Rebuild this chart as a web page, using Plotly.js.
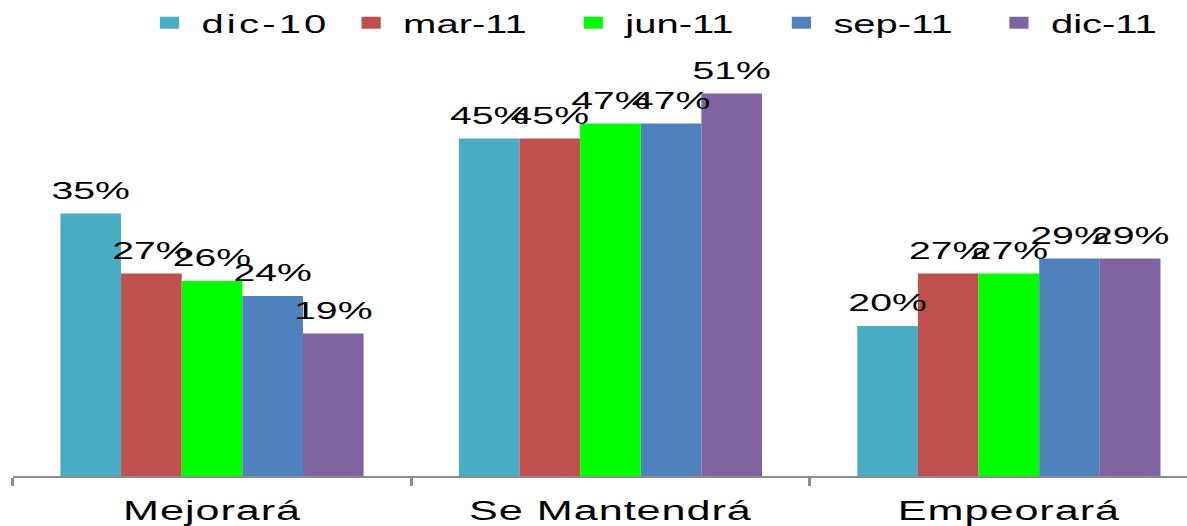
<!DOCTYPE html>
<html>
<head>
<meta charset="utf-8">
<script src="https://cdn.plot.ly/plotly-3.0.1.min.js"></script>
<style>
html,body{margin:0;padding:0;overflow:hidden;background:#fff;}
#wrap{width:1187px;height:526px;overflow:hidden;}
#chart{width:742px;height:526px;transform:scale(1.5997,1);transform-origin:0 0;}
.legendtext{letter-spacing:2px;}
.xtick text{letter-spacing:0.6px;}
</style>
</head>
<body>
<div id="wrap"><div id="chart"></div></div>
<script>
const categories = ['Mejorará', 'Se Mantendrá', 'Empeorará'];
const seriesNames = ['dic-10', 'mar-11', 'jun-11', 'sep-11', 'dic-11'];
const dic10 = [35, 45, 20];
const mar11 = [27, 45, 27];
const jun11 = [26, 47, 27];
const sep11 = [24, 47, 29];
const dic11 = [19, 51, 29];
const seriesValues = [dic10, mar11, jun11, sep11, dic11];
const seriesColors = ['#4BACC6', '#C0504D', '#00FF00', '#4F81BD', '#8064A2'];
const legendIds = ['legend', 'legend2', 'legend3', 'legend4', 'legend5'];
const legendX = [0.1158, 0.2857, 0.4729, 0.6482, 0.8315];

const FONT = 'Liberation Sans, Arial, sans-serif';

const barTraces = seriesNames.map((name, i) => ({
  type: 'bar',
  name: name,
  legend: legendIds[i],
  x: categories,
  y: seriesValues[i],
  marker: {color: seriesColors[i], line: {width: 0}},
  hoverinfo: 'none'
}));

const labelTraces = seriesNames.map((name, i) => ({
  type: 'scatter',
  mode: 'markers+text',
  name: name + ' labels',
  showlegend: false,
  x: categories,
  y: seriesValues[i],
  text: seriesValues[i].map(v => v + '%'),
  textposition: 'top center',
  textfont: {family: FONT, size: 24.5, color: '#000'},
  marker: {size: 12, opacity: 0},
  cliponaxis: false,
  hoverinfo: 'none'
}));

const layout = {
  width: 742,
  height: 526,
  margin: {l: 7.8, r: 0, t: 70, b: 50, pad: 0},
  paper_bgcolor: '#fff',
  plot_bgcolor: '#fff',
  barmode: 'group',
  bargap: 0.239,
  bargroupgap: 0,
  scattermode: 'group',
  scattergap: 0.239,
  showlegend: true,
  xaxis: {
    type: 'category',
    range: [-0.5, 2.447],
    tickson: 'boundaries',
    ticks: 'outside',
    ticklen: 8,
    tickwidth: 2,
    tickcolor: '#8c8c8c',
    showline: true,
    linecolor: '#8c8c8c',
    linewidth: 2,
    showgrid: false,
    zeroline: false,
    ticklabelstandoff: 10,
    tickfont: {family: FONT, size: 27, color: '#000'},
    fixedrange: true
  },
  yaxis: {
    range: [0, 54.13],
    visible: false,
    showgrid: false,
    zeroline: false,
    fixedrange: true
  },
  font: {family: FONT, color: '#000'}
};

legendIds.forEach((id, i) => {
  layout[id] = {
    orientation: 'h',
    xref: 'container', yref: 'container',
    x: legendX[i], xanchor: 'left',
    y: 1.0, yanchor: 'top',
    font: {family: FONT, size: 25, color: '#000'},
    bgcolor: 'rgba(0,0,0,0)'
  };
});

Plotly.newPlot('chart', barTraces.concat(labelTraces), layout, {displayModeBar: false, staticPlot: true});
</script>
</body>
</html>
